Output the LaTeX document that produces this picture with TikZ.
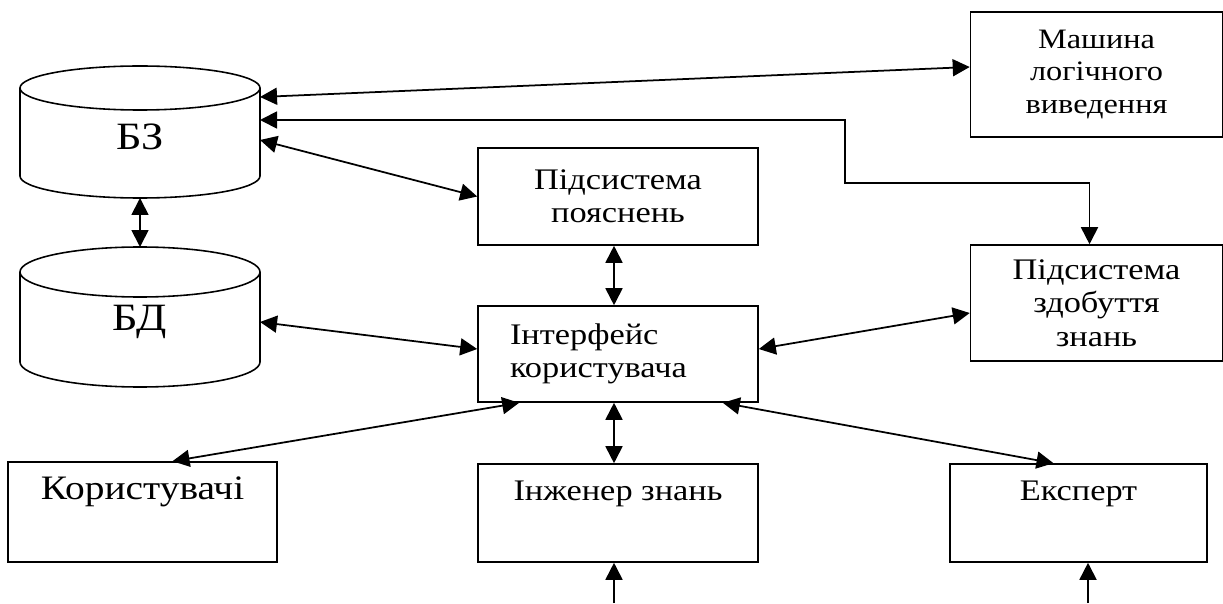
\documentclass[tikz,border=0pt]{standalone}
\usepackage{fontspec}
\setmainfont{Liberation Serif}[FakeStretch=1.15]
\usetikzlibrary{arrows.meta}

\begin{document}
\begin{tikzpicture}[x=1cm,y=1cm,
  font=\fontsize{17}{19}\selectfont,
  >={Triangle[length=0.34cm,width=0.34cm]},
  box/.style={draw,line width=0.9pt,align=center,inner sep=0pt},
  link/.style={line width=1pt},
  db/.style={line width=0.9pt}]
\path[use as bounding box] (0,0) rectangle (24.46,12.06);
\draw[db] (0.4,10.30) -- (0.4,8.54) arc[start angle=180,end angle=360,x radius=2.4,y radius=0.44] -- (5.2,10.30);
\draw[db] (2.8,10.30) ellipse[x radius=2.4,y radius=0.44];
\node (bz) at (2.8,9.32) {\fontsize{22}{24}\selectfont БЗ};
\draw[db] (0.4,6.62) -- (0.4,4.82) arc[start angle=180,end angle=360,x radius=2.4,y radius=0.5] -- (5.2,6.62);
\draw[db] (2.8,6.62) ellipse[x radius=2.4,y radius=0.5];
\node (bd) at (2.8,5.62) {\fontsize{22}{24}\selectfont БД};
\coordinate (bz-a) at (5.2,10.12);
\coordinate (bz-b) at (5.2,9.66);
\coordinate (bz-c) at (5.2,9.26);
\coordinate (bz-bot) at (2.8,8.10);
\coordinate (bd-top) at (2.8,7.12);
\coordinate (bd-r) at (5.2,5.62);
\node[box,minimum width=5.04cm,minimum height=2.5cm,font=\fontsize{16}{18.5}\selectfont] (mash) at (21.93,10.57) {Машина\\логічного\\виведення};
\node[box,minimum width=5.04cm,minimum height=2.32cm] (zdob) at (21.93,6.00) {Підсистема\\здобуття\\знань};
\node[box,minimum width=5.6cm,minimum height=1.94cm] (poyas) at (12.36,8.13) {Підсистема\\пояснень};
\node[box,minimum width=5.6cm,minimum height=1.92cm,align=left,text width=4.32cm,inner xsep=0.64cm] (inter) at (12.36,4.98) {Інтерфейс\\користувача};
\node[box,minimum width=5.38cm,minimum height=2.0cm] (kor) at (2.85,1.82) {};
\node[font=\fontsize{19.5}{21}\selectfont] (kor-t) at ([yshift=-0.62cm]kor.north) {Користувачі};
\node[box,minimum width=5.6cm,minimum height=1.96cm] (inzh) at (12.36,1.80) {};
\node (inzh-t) at ([yshift=-0.62cm]inzh.north) {Інженер знань};
\node[box,minimum width=5.14cm,minimum height=1.96cm] (eksp) at (21.57,1.80) {};
\node (eksp-t) at ([yshift=-0.62cm]eksp.north) {Експерт};
\coordinate (bend) at (16.9,8.40);
\coordinate (inzh-in) at (12.28,0);
\coordinate (eksp-in) at (21.76,0);
\draw[link,<->] (bz-a) -- ([yshift=0.15cm]mash.west);
\draw[link,<->] (bz-b) -| (bend) -| ([xshift=-0.14cm]zdob.north);
\draw[link,<->] (bz-c) -- (poyas.west);
\draw[link,<->] (bz-bot) -- (bd-top);
\draw[link,<->] (bd-r) -- ([yshift=0.1cm]inter.west);
\draw[link,<->] ([xshift=-0.08cm]poyas.south) -- ([xshift=-0.08cm]inter.north);
\draw[link,<->] ([yshift=0.1cm]inter.east) -- ([yshift=-0.2cm]zdob.west);
\draw[link,<->] ([xshift=0.84cm]inter.south west) -- ([xshift=0.6cm]kor.north);
\draw[link,<->] ([xshift=-0.08cm]inter.south) -- ([xshift=-0.08cm]inzh.north);
\draw[link,<->] ([xshift=-0.72cm]inter.south east) -- ([xshift=-0.5cm]eksp.north);
\draw[link,->] (inzh-in) -- (inzh.south -| inzh-in);
\draw[link,->] (eksp-in) -- (eksp.south -| eksp-in);
\end{tikzpicture}
\end{document}
